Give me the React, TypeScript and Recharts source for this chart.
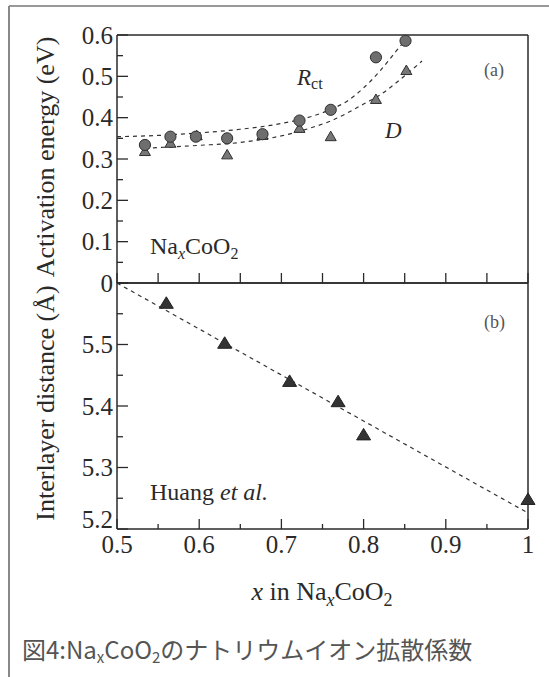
import React from 'react';
import { ComposedChart, Line, Scatter, XAxis, YAxis } from 'recharts';

// panel (a): activation energy vs x
const rctX = [0.534, 0.565, 0.596, 0.634, 0.677, 0.722, 0.76, 0.815, 0.851];
const rctY = [0.334, 0.354, 0.354, 0.35, 0.36, 0.393, 0.419, 0.546, 0.586];
const diffX = [0.534, 0.565, 0.597, 0.634, 0.677, 0.722, 0.76, 0.815, 0.852];
const diffY = [0.318, 0.338, 0.356, 0.31, 0.357, 0.374, 0.354, 0.444, 0.514];

// dashed guide curves
const rctFitX = [0.5, 0.55, 0.6, 0.65, 0.7, 0.74, 0.76, 0.78, 0.8, 0.82, 0.84, 0.856];
const rctFitY = [0.354, 0.357, 0.363, 0.372, 0.386, 0.405, 0.42, 0.44, 0.472, 0.513, 0.562, 0.6];
const diffFitX = [0.534, 0.6, 0.65, 0.7, 0.74, 0.76, 0.8, 0.82, 0.84, 0.871];
const diffFitY = [0.326, 0.333, 0.34, 0.356, 0.378, 0.392, 0.433, 0.455, 0.485, 0.537];

// panel (b): interlayer distance (Huang et al.)
const distX = [0.56, 0.631, 0.71, 0.769, 0.8, 1.0];
const distY = [5.567, 5.502, 5.44, 5.407, 5.353, 5.248];
const distFitX = [0.5, 1.0];
const distFitY = [5.6, 5.226];

// ticks
const xTicks = [0.5, 0.55, 0.6, 0.65, 0.7, 0.75, 0.8, 0.85, 0.9, 0.95, 1.0];
const xLabels = [0.5, 0.6, 0.7, 0.8, 0.9, 1.0];
const energyTicks = [0, 0.05, 0.1, 0.15, 0.2, 0.25, 0.3, 0.35, 0.4, 0.45, 0.5, 0.55, 0.6];
const energyLabels = [0, 0.1, 0.2, 0.3, 0.4, 0.5, 0.6];
const energyRightTicks = [0.04, 0.12, 0.2, 0.28, 0.36, 0.44, 0.52];
const distTicks = [5.2, 5.25, 5.3, 5.35, 5.4, 5.45, 5.5, 5.55, 5.6];
const distLabels = [5.2, 5.3, 5.4, 5.5];

const pts = (xs: number[], ys: number[]) => xs.map((x, i) => ({ x, y: ys[i] }));
const rct = pts(rctX, rctY);
const diff = pts(diffX, diffY);
const rctFit = pts(rctFitX, rctFitY);
const diffFit = pts(diffFitX, diffFitY);
const dist = pts(distX, distY);
const distFit = pts(distFitX, distFitY);

const W = 549;
const H = 677;
const LEFT = 117;
const RIGHT = 528;
const TOP_A = 35;
const MID = 283;
const BOT_B = 529;

const INK = '#2a2a2a';
const SERIF = '"Liberation Serif", "DejaVu Serif", serif';

const same = (a: number, b: number) => Math.abs(a - b) < 1e-6;
const isTenth = (v: number) => same(v * 10, Math.round(v * 10));
const fmt = (v: number) => String(Number(v.toFixed(2)));

function AxisTick(props: any) {
  const { x, y, payload, side, labels = [], major = 11, minor = 6, lift = 0 } = props;
  const v = payload.value;
  const len = isTenth(v) ? major : minor;
  const show = labels.some((l: number) => same(l, v));
  let line = null;
  let text = null;
  if (side === 'left') {
    line = <line x1={x} y1={y} x2={x + len} y2={y} stroke={INK} strokeWidth={1.3} />;
    // the lowest label sits a little above its tick so it clears the x labels
    const ty = same(v, labels[0]) ? y - lift : y;
    if (show)
      text = (
        <text x={x - 4} y={ty} dy="0.34em" textAnchor="end" fontFamily={SERIF} fontSize={25} fill={INK}>
          {fmt(v)}
        </text>
      );
  } else if (side === 'right') {
    line = <line x1={x} y1={y} x2={x - len} y2={y} stroke={INK} strokeWidth={1.3} />;
  } else if (side === 'bottom') {
    line = <line x1={x} y1={y} x2={x} y2={y - len} stroke={INK} strokeWidth={1.3} />;
    if (show)
      text = (
        <text x={x} y={y + 24} textAnchor="middle" fontFamily={SERIF} fontSize={25} fill={INK}>
          {fmt(v)}
        </text>
      );
  } else if (side === 'top') {
    line = <line x1={x} y1={y} x2={x} y2={y + len} stroke={INK} strokeWidth={1.3} />;
  }
  return (
    <g>
      {line}
      {text}
    </g>
  );
}

const HatchDot = (p: any) => (
  <circle cx={p.cx} cy={p.cy} r={5.6} fill="#6e6e6e" stroke="#2f2f2f" strokeWidth={1} />
);

const HatchTri = (p: any) => (
  <polygon
    points={`${p.cx},${p.cy - 5.5} ${p.cx + 5.5},${p.cy + 4} ${p.cx - 5.5},${p.cy + 4}`}
    fill="#777"
    stroke="#2f2f2f"
    strokeWidth={1}
  />
);

const DarkTri = (p: any) => (
  <polygon
    points={`${p.cx},${p.cy - 6.5} ${p.cx + 7},${p.cy + 5} ${p.cx - 7},${p.cy + 5}`}
    fill="#333"
    stroke="#222"
    strokeWidth={1}
  />
);

const axisLine = { stroke: INK, strokeWidth: 1.5 };

// axes are 1px thick boxes, so margins are one pixel short of the plot edges
function PanelA() {
  return (
    <ComposedChart
      width={W}
      height={H}
      margin={{ top: TOP_A - 1, right: W - RIGHT - 1, bottom: H - MID - 1, left: LEFT - 1 }}
    >
      <XAxis
        xAxisId="b"
        type="number"
        dataKey="x"
        domain={[0.5, 1]}
        ticks={xTicks}
        interval={0}
        height={1}
        tickSize={0}
        tickMargin={0}
        axisLine={axisLine}
        tick={<AxisTick side="bottom" major={10} minor={10} />}
      />
      <XAxis
        xAxisId="t"
        orientation="top"
        type="number"
        dataKey="x"
        domain={[0.5, 1]}
        height={1}
        tick={false}
        tickLine={false}
        axisLine={axisLine}
      />
      <YAxis
        yAxisId="l"
        type="number"
        dataKey="y"
        domain={[0, 0.6]}
        ticks={energyTicks}
        interval={0}
        width={1}
        tickSize={0}
        tickMargin={0}
        axisLine={axisLine}
        tick={<AxisTick side="left" labels={energyLabels} />}
      />
      <YAxis
        yAxisId="r"
        orientation="right"
        type="number"
        domain={[0, 0.6]}
        ticks={energyRightTicks}
        interval={0}
        width={1}
        tickSize={0}
        tickMargin={0}
        axisLine={axisLine}
        tick={<AxisTick side="right" major={9} minor={9} />}
      />
      <Line
        xAxisId="b"
        yAxisId="l"
        data={rctFit}
        dataKey="y"
        type="monotone"
        stroke="#333"
        strokeWidth={1.2}
        strokeDasharray="4 4"
        dot={false}
        isAnimationActive={false}
      />
      <Line
        xAxisId="b"
        yAxisId="l"
        data={diffFit}
        dataKey="y"
        type="monotone"
        stroke="#333"
        strokeWidth={1.2}
        strokeDasharray="4 4"
        dot={false}
        isAnimationActive={false}
      />
      <Scatter xAxisId="b" yAxisId="l" data={diff} dataKey="y" shape={HatchTri} isAnimationActive={false} />
      <Scatter xAxisId="b" yAxisId="l" data={rct} dataKey="y" shape={HatchDot} isAnimationActive={false} />
    </ComposedChart>
  );
}

function PanelB() {
  return (
    <ComposedChart
      width={W}
      height={H}
      margin={{ top: MID - 1, right: W - RIGHT - 1, bottom: H - BOT_B - 1, left: LEFT - 1 }}
    >
      <XAxis
        xAxisId="b"
        type="number"
        dataKey="x"
        domain={[0.5, 1]}
        ticks={xTicks}
        interval={0}
        height={1}
        tickSize={0}
        tickMargin={0}
        axisLine={axisLine}
        tick={<AxisTick side="bottom" labels={xLabels} major={10} minor={5} />}
      />
      <XAxis
        xAxisId="t"
        orientation="top"
        type="number"
        dataKey="x"
        domain={[0.5, 1]}
        ticks={xTicks}
        interval={0}
        height={1}
        tickSize={0}
        tickMargin={0}
        axisLine={axisLine}
        tick={<AxisTick side="top" major={4} minor={4} />}
      />
      <YAxis
        yAxisId="l"
        type="number"
        dataKey="y"
        domain={[5.2, 5.6]}
        ticks={distTicks}
        interval={0}
        width={1}
        tickSize={0}
        tickMargin={0}
        axisLine={axisLine}
        tick={<AxisTick side="left" labels={distLabels} lift={10} />}
      />
      <YAxis
        yAxisId="r"
        orientation="right"
        type="number"
        domain={[5.2, 5.6]}
        ticks={distTicks}
        interval={0}
        width={1}
        tickSize={0}
        tickMargin={0}
        axisLine={axisLine}
        tick={<AxisTick side="right" major={10} minor={8} />}
      />
      <Line
        xAxisId="b"
        yAxisId="l"
        data={distFit}
        dataKey="y"
        type="linear"
        stroke="#333"
        strokeWidth={1.2}
        strokeDasharray="4 4"
        dot={false}
        isAnimationActive={false}
      />
      <Scatter xAxisId="b" yAxisId="l" data={dist} dataKey="y" shape={DarkTri} isAnimationActive={false} />
    </ComposedChart>
  );
}

export default function App() {
  const layer: React.CSSProperties = { position: 'absolute', left: 0, top: 0 };
  return (
    <div style={{ position: 'absolute', left: 0, top: 0, width: W, height: H, background: '#fff', overflow: 'hidden' }}>
      <div style={layer}>
        <PanelA />
      </div>
      <div style={layer}>
        <PanelB />
      </div>
      <svg style={layer} width={W} height={H}>
        <line x1={9} y1={6} x2={W} y2={6} stroke="#777" strokeWidth={1.5} />
        <line x1={9} y1={6} x2={9} y2={H} stroke="#888" strokeWidth={2} />

        <text transform="translate(54,157) rotate(-90)" textAnchor="middle" fontFamily={SERIF} fontSize={26} fill={INK}>
          Activation energy (eV)
        </text>
        <text transform="translate(54,403) rotate(-90)" textAnchor="middle" fontFamily={SERIF} fontSize={26} fill={INK}>
          Interlayer distance (Å)
        </text>

        <text x={322} y={600} textAnchor="middle" fontFamily={SERIF} fontSize={26} fill={INK}>
          <tspan fontStyle="italic">x</tspan> in Na
          <tspan fontStyle="italic" fontSize={18} dy={6}>x</tspan>
          <tspan dy={-6}>CoO</tspan>
          <tspan fontSize={18} dy={6}>2</tspan>
        </text>

        <text x={297} y={85} fontFamily={SERIF} fontSize={23} fill={INK}>
          <tspan fontStyle="italic">R</tspan>
          <tspan fontSize={16} dy={4}>ct</tspan>
        </text>
        <text x={385} y={138} fontFamily={SERIF} fontSize={23} fontStyle="italic" fill={INK}>
          D
        </text>
        <text x={484} y={76} fontFamily={SERIF} fontSize={18} fill="#555">
          (a)
        </text>
        <text x={484} y={328} fontFamily={SERIF} fontSize={18} fill="#555">
          (b)
        </text>
        <text x={150} y={254} fontFamily={SERIF} fontSize={24} fill={INK}>
          Na
          <tspan fontStyle="italic" fontSize={16} dy={5}>x</tspan>
          <tspan dy={-5}>CoO</tspan>
          <tspan fontSize={16} dy={5}>2</tspan>
        </text>
        <text x={150} y={500} fontFamily={SERIF} fontSize={24} fill={INK}>
          Huang <tspan fontStyle="italic">et al.</tspan>
        </text>

        <text x={22} y={659} fontFamily='"Noto Sans CJK JP", "Noto Sans", sans-serif' fontSize={24} fill="#555">
          図4:Na
          <tspan fontSize={15} dy={4}>x</tspan>
          <tspan dy={-4}>CoO</tspan>
          <tspan fontSize={15} dy={4}>2</tspan>
          <tspan dy={-4}>のナトリウムイオン拡散係数</tspan>
        </text>
      </svg>
    </div>
  );
}
